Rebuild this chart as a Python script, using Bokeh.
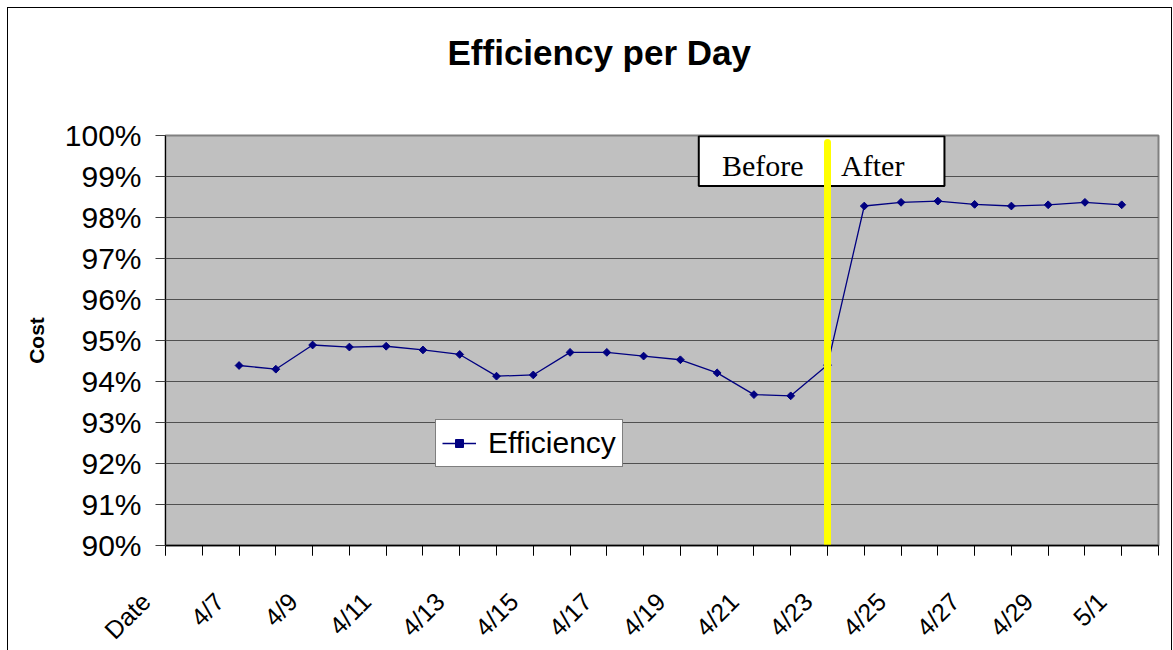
import math
from bokeh.plotting import figure
from bokeh.models import (Range1d, FixedTicker, NumeralTickFormatter, BoxAnnotation,
                          Label, Legend, LegendItem, Title, LinearAxis)
from bokeh.embed import file_html
from bokeh.resources import INLINE

# ---- data -------------------------------------------------------------
categories = ["Date", "4/6", "4/7", "4/8", "4/9", "4/10", "4/11", "4/12", "4/13",
              "4/14", "4/15", "4/16", "4/17", "4/18", "4/19", "4/20", "4/21",
              "4/22", "4/23", "4/24", "4/25", "4/26", "4/27", "4/28", "4/29",
              "4/30", "5/1", "5/2"]

dates = ["4/7", "4/8", "4/9", "4/10", "4/11", "4/12", "4/13", "4/14", "4/15",
         "4/16", "4/17", "4/18", "4/19", "4/20", "4/21", "4/22", "4/23",
         "4/24", "4/25", "4/26", "4/27", "4/28", "4/29", "4/30", "5/1"]

efficiency = [0.9439, 0.9430, 0.9489, 0.9484, 0.9486, 0.9477, 0.9466, 0.9413,
              0.9416, 0.9471, 0.9471, 0.9462, 0.9453, 0.9421, 0.9368, 0.9365,
              0.9440,
              0.9828, 0.9837, 0.9840, 0.9832, 0.9828, 0.9831, 0.9837, 0.9831]

y_ticks = [0.90, 0.91, 0.92, 0.93, 0.94, 0.95, 0.96, 0.97, 0.98, 0.99, 1.00]
divider_date = "4/23"

# ---- figure -----------------------------------------------------------
FONT = "Liberation Sans"
x_idx = [categories.index(d) for d in dates]
n_cat = len(categories)
NBSP = "\u00a0"

p = figure(frame_width=993, frame_height=410,
           min_border_left=157, min_border_right=13,
           min_border_top=127, min_border_bottom=90,
           x_range=Range1d(0, n_cat - 1), y_range=Range1d(y_ticks[0], y_ticks[-1]),
           output_backend="svg", toolbar_location=None,
           background_fill_color="#C0C0C0", border_fill_color="white",
           outline_line_color="#808080", outline_line_width=2,
           title=Title(text="Efficiency per Day", align="left", offset=282,
                       vertical_align="bottom", standoff=10, text_font=FONT,
                       text_font_size="35px", text_font_style="bold",
                       text_color="black"))
p.styles = {"border": "1px solid black", "margin-left": "7px", "margin-top": "7px"}

# y axis
ya = p.yaxis[0]
ya.ticker = FixedTicker(ticks=y_ticks)
ya.formatter = NumeralTickFormatter(format="0%")
ya.major_label_text_font = FONT
ya.major_label_text_font_size = "30px"
ya.major_label_text_color = "black"
ya.major_label_standoff = 14
ya.major_tick_out = 10
ya.major_tick_in = 0
ya.minor_tick_line_color = None
ya.axis_line_color = "black"
ya.major_tick_line_color = "#404040"
ya.axis_label = "Cost"
ya.axis_label_text_font = FONT
ya.axis_label_text_font_size = "21px"
ya.axis_label_text_font_style = "bold"
ya.axis_label_text_color = "black"
ya.axis_label_standoff = 14

# x axis: a tick on every category, a label on every other one
xa = p.below[0]
xa.ticker = FixedTicker(ticks=list(range(0, n_cat, 2)), minor_ticks=list(range(n_cat)))
xa.major_label_overrides = {i: categories[i] + NBSP * 4 for i in range(0, n_cat, 2)}
xa.axis_line_color = "black"
xa.axis_line_width = 1.5
xa.major_tick_line_color = "black"
xa.major_tick_out = 10
xa.major_tick_in = 0
xa.minor_tick_line_color = "black"
xa.minor_tick_out = 10
xa.minor_tick_in = 0
xa.major_label_orientation = math.pi / 4
xa.major_label_text_font = FONT
xa.major_label_text_font_size = "25px"
xa.major_label_text_color = "black"
xa.major_label_standoff = 22

# invisible spacer axis above the frame keeps the title high in the top margin
spacer_tick = n_cat // 2
spacer = LinearAxis(ticker=FixedTicker(ticks=[spacer_tick]),
                    major_label_overrides={spacer_tick: ""},
                    axis_line_color=None, major_tick_line_color=None,
                    minor_tick_line_color=None, major_tick_out=59,
                    major_tick_in=0, minor_tick_out=0, major_label_standoff=0,
                    major_label_text_font_size="10px")
p.add_layout(spacer, "above")

p.xgrid.grid_line_color = None
p.ygrid.ticker = FixedTicker(ticks=y_ticks)
p.ygrid.grid_line_color = "#505050"
p.ygrid.grid_line_width = 1

# Before / After box
div_x = categories.index(divider_date)
box = BoxAnnotation(left=div_x - 3.5, right=div_x + 3.18, top=0.9998, bottom=0.9877,
                    fill_color="white", fill_alpha=1.0, line_color="black",
                    line_alpha=1.0, line_width=2, level="underlay")
p.add_layout(box)

# series
ln = p.line(x_idx, efficiency, line_color="#000080", line_width=1.3)
mk = p.scatter(x_idx, efficiency, marker="square", angle=math.pi / 4, size=5.5,
               fill_color="#000080", line_color="#000080")

# divider
p.segment(x0=[div_x], y0=[0.8996], x1=[div_x], y1=[0.9983],
          line_color="#FFFF00", line_width=7, line_cap="round")

for txt, xx in (("Before", div_x - 2.87), ("After", div_x + 0.37)):
    p.add_layout(Label(x=xx, y=0.9926, text=txt, text_font="Liberation Serif",
                       text_font_size="30px", text_color="black",
                       text_baseline="alphabetic"))

legend = Legend(items=[LegendItem(label="Efficiency", renderers=[ln, mk])],
                location=(270, 78), orientation="vertical",
                border_line_color="black", border_line_width=1,
                background_fill_color="white", background_fill_alpha=1.0,
                label_text_font=FONT, label_text_font_size="30px",
                label_text_color="black", glyph_width=34, glyph_height=20,
                label_standoff=12, padding=6, margin=0, spacing=0)
p.add_layout(legend)

open("out.html", "w").write(file_html(p, INLINE))
